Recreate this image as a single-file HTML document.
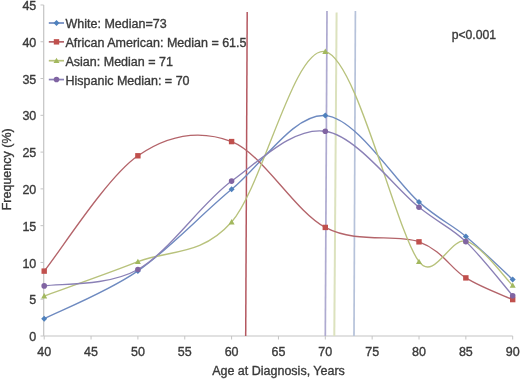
<!DOCTYPE html>
<html><head><meta charset="utf-8"><style>
html,body{margin:0;padding:0;background:#fff;width:520px;height:379px;overflow:hidden}
svg{display:block;filter:blur(0.5px)}
.l{font-size:12.5px !important}
.t{font-family:"Liberation Sans",sans-serif;font-size:12.5px;fill:#3a3a3a;stroke:#3a3a3a;stroke-width:0.35px}
</style></head><body>
<svg width="520" height="379" viewBox="0 0 520 379">
<rect width="520" height="379" fill="#fff"/>
<line x1="43.7" y1="5" x2="43.7" y2="336" stroke="#C4C4C4" stroke-width="1.2"/>
<line x1="43.7" y1="336" x2="512.7" y2="336" stroke="#C4C4C4" stroke-width="1.2"/>
<line x1="40.5" y1="336.00" x2="43.7" y2="336.00" stroke="#C4C4C4" stroke-width="1"/>
<text x="36.3" y="341.10" text-anchor="end" class="t">0</text>
<line x1="40.5" y1="299.22" x2="43.7" y2="299.22" stroke="#C4C4C4" stroke-width="1"/>
<text x="36.3" y="304.32" text-anchor="end" class="t">5</text>
<line x1="40.5" y1="262.44" x2="43.7" y2="262.44" stroke="#C4C4C4" stroke-width="1"/>
<text x="36.3" y="267.54" text-anchor="end" class="t">10</text>
<line x1="40.5" y1="225.66" x2="43.7" y2="225.66" stroke="#C4C4C4" stroke-width="1"/>
<text x="36.3" y="230.76" text-anchor="end" class="t">15</text>
<line x1="40.5" y1="188.88" x2="43.7" y2="188.88" stroke="#C4C4C4" stroke-width="1"/>
<text x="36.3" y="193.98" text-anchor="end" class="t">20</text>
<line x1="40.5" y1="152.10" x2="43.7" y2="152.10" stroke="#C4C4C4" stroke-width="1"/>
<text x="36.3" y="157.20" text-anchor="end" class="t">25</text>
<line x1="40.5" y1="115.32" x2="43.7" y2="115.32" stroke="#C4C4C4" stroke-width="1"/>
<text x="36.3" y="120.42" text-anchor="end" class="t">30</text>
<line x1="40.5" y1="78.54" x2="43.7" y2="78.54" stroke="#C4C4C4" stroke-width="1"/>
<text x="36.3" y="83.64" text-anchor="end" class="t">35</text>
<line x1="40.5" y1="41.76" x2="43.7" y2="41.76" stroke="#C4C4C4" stroke-width="1"/>
<text x="36.3" y="46.86" text-anchor="end" class="t">40</text>
<line x1="40.5" y1="4.98" x2="43.7" y2="4.98" stroke="#C4C4C4" stroke-width="1"/>
<text x="36.3" y="10.08" text-anchor="end" class="t">45</text>
<line x1="44.20" y1="336" x2="44.20" y2="339.5" stroke="#C4C4C4" stroke-width="1"/>
<text x="44.20" y="355.7" text-anchor="middle" class="t">40</text>
<line x1="91.05" y1="336" x2="91.05" y2="339.5" stroke="#C4C4C4" stroke-width="1"/>
<text x="91.05" y="355.7" text-anchor="middle" class="t">45</text>
<line x1="137.90" y1="336" x2="137.90" y2="339.5" stroke="#C4C4C4" stroke-width="1"/>
<text x="137.90" y="355.7" text-anchor="middle" class="t">50</text>
<line x1="184.75" y1="336" x2="184.75" y2="339.5" stroke="#C4C4C4" stroke-width="1"/>
<text x="184.75" y="355.7" text-anchor="middle" class="t">55</text>
<line x1="231.60" y1="336" x2="231.60" y2="339.5" stroke="#C4C4C4" stroke-width="1"/>
<text x="231.60" y="355.7" text-anchor="middle" class="t">60</text>
<line x1="278.45" y1="336" x2="278.45" y2="339.5" stroke="#C4C4C4" stroke-width="1"/>
<text x="278.45" y="355.7" text-anchor="middle" class="t">65</text>
<line x1="325.30" y1="336" x2="325.30" y2="339.5" stroke="#C4C4C4" stroke-width="1"/>
<text x="325.30" y="355.7" text-anchor="middle" class="t">70</text>
<line x1="372.15" y1="336" x2="372.15" y2="339.5" stroke="#C4C4C4" stroke-width="1"/>
<text x="372.15" y="355.7" text-anchor="middle" class="t">75</text>
<line x1="419.00" y1="336" x2="419.00" y2="339.5" stroke="#C4C4C4" stroke-width="1"/>
<text x="419.00" y="355.7" text-anchor="middle" class="t">80</text>
<line x1="465.85" y1="336" x2="465.85" y2="339.5" stroke="#C4C4C4" stroke-width="1"/>
<text x="465.85" y="355.7" text-anchor="middle" class="t">85</text>
<line x1="512.70" y1="336" x2="512.70" y2="339.5" stroke="#C4C4C4" stroke-width="1"/>
<text x="512.70" y="355.7" text-anchor="middle" class="t">90</text>
<line x1="247.20" y1="12.0" x2="245.70" y2="336" stroke="#B45860" stroke-width="1.50"/>
<line x1="327.00" y1="11.0" x2="325.30" y2="336" stroke="#AEAAD0" stroke-width="1.70"/>
<line x1="336.60" y1="12.5" x2="334.30" y2="336" stroke="#DCE2BE" stroke-width="2.00"/>
<line x1="355.40" y1="11.0" x2="354.00" y2="336" stroke="#B6C2DA" stroke-width="1.70"/>
<path d="M44.20,318.71 C59.82,310.74 106.67,292.46 137.90,270.90 C169.13,249.33 200.37,215.20 231.60,189.32 C262.83,163.44 294.07,113.48 325.30,115.61 C356.53,117.75 395.57,181.99 419.00,202.12 C441.01,221.04 450.23,223.49 465.85,236.40 C481.47,249.31 504.89,272.38 512.70,279.58" fill="none" stroke="#6E8AC0" stroke-width="1.35"/>
<path d="M44.20,271.12 C59.82,251.90 106.67,177.37 137.90,155.78 C169.13,134.19 200.37,129.64 231.60,141.58 C262.83,153.52 294.07,210.72 325.30,227.43 C356.53,244.14 395.57,233.43 419.00,241.84 C442.42,250.25 450.23,268.26 465.85,277.89 C481.47,287.51 504.89,295.97 512.70,299.59" fill="none" stroke="#B4646A" stroke-width="1.35"/>
<path d="M44.20,295.98 C59.82,290.27 106.67,274.04 137.90,261.70 C169.13,249.37 200.37,257.00 231.60,221.98 C262.83,186.97 294.07,45.00 325.30,51.62 C356.53,58.24 395.57,230.12 419.00,261.70 C434.24,282.26 450.23,237.16 465.85,241.11 C481.47,245.06 504.89,278.01 512.70,285.39" fill="none" stroke="#B8C27C" stroke-width="1.35"/>
<path d="M44.20,285.91 C59.82,283.17 106.67,286.97 137.90,269.50 C169.13,252.03 200.37,204.12 231.60,181.08 C262.83,158.05 294.07,126.92 325.30,131.28 C356.53,135.65 395.57,188.88 419.00,207.27 C441.85,225.21 450.23,226.89 465.85,241.62 C481.47,256.36 504.89,286.68 512.70,295.69" fill="none" stroke="#8A80B6" stroke-width="1.35"/>
<path d="M44.20,315.71 l3.00,3.00 l-3.00,3.00 l-3.00,-3.00 z" fill="#4F81BD"/>
<path d="M137.90,267.90 l3.00,3.00 l-3.00,3.00 l-3.00,-3.00 z" fill="#4F81BD"/>
<path d="M231.60,186.32 l3.00,3.00 l-3.00,3.00 l-3.00,-3.00 z" fill="#4F81BD"/>
<path d="M325.30,112.61 l3.00,3.00 l-3.00,3.00 l-3.00,-3.00 z" fill="#4F81BD"/>
<path d="M419.00,199.12 l3.00,3.00 l-3.00,3.00 l-3.00,-3.00 z" fill="#4F81BD"/>
<path d="M465.85,233.40 l3.00,3.00 l-3.00,3.00 l-3.00,-3.00 z" fill="#4F81BD"/>
<path d="M512.70,276.58 l3.00,3.00 l-3.00,3.00 l-3.00,-3.00 z" fill="#4F81BD"/>
<rect x="41.50" y="268.42" width="5.40" height="5.40" fill="#C0504D"/>
<rect x="135.20" y="153.08" width="5.40" height="5.40" fill="#C0504D"/>
<rect x="228.90" y="138.88" width="5.40" height="5.40" fill="#C0504D"/>
<rect x="322.60" y="224.73" width="5.40" height="5.40" fill="#C0504D"/>
<rect x="416.30" y="239.14" width="5.40" height="5.40" fill="#C0504D"/>
<rect x="463.15" y="275.19" width="5.40" height="5.40" fill="#C0504D"/>
<rect x="510.00" y="296.89" width="5.40" height="5.40" fill="#C0504D"/>
<path d="M44.20,292.98 L47.20,298.38 L41.20,298.38 z" fill="#A2B85E"/>
<path d="M137.90,258.70 L140.90,264.10 L134.90,264.10 z" fill="#A2B85E"/>
<path d="M231.60,218.98 L234.60,224.38 L228.60,224.38 z" fill="#A2B85E"/>
<path d="M325.30,48.62 L328.30,54.02 L322.30,54.02 z" fill="#A2B85E"/>
<path d="M419.00,258.70 L422.00,264.10 L416.00,264.10 z" fill="#A2B85E"/>
<path d="M465.85,238.11 L468.85,243.51 L462.85,243.51 z" fill="#A2B85E"/>
<path d="M512.70,282.39 L515.70,287.79 L509.70,287.79 z" fill="#A2B85E"/>
<circle cx="44.20" cy="285.91" r="2.8" fill="#8064A2"/>
<circle cx="137.90" cy="269.50" r="2.8" fill="#8064A2"/>
<circle cx="231.60" cy="181.08" r="2.8" fill="#8064A2"/>
<circle cx="325.30" cy="131.28" r="2.8" fill="#8064A2"/>
<circle cx="419.00" cy="207.27" r="2.8" fill="#8064A2"/>
<circle cx="465.85" cy="241.62" r="2.8" fill="#8064A2"/>
<circle cx="512.70" cy="295.69" r="2.8" fill="#8064A2"/>
<line x1="48.8" y1="23.00" x2="64" y2="23.00" stroke="#6E8AC0" stroke-width="1.7"/>
<path d="M56.50,20.00 l3.00,3.00 l-3.00,3.00 l-3.00,-3.00 z" fill="#4F81BD"/>
<text x="65.5" y="28.20" class="t l">White: Median=73</text>
<line x1="48.8" y1="41.85" x2="64" y2="41.85" stroke="#B4646A" stroke-width="1.7"/>
<rect x="53.80" y="39.15" width="5.40" height="5.40" fill="#C0504D"/>
<text x="65.5" y="47.05" class="t l">African American: Median = 61.5</text>
<line x1="48.8" y1="60.70" x2="64" y2="60.70" stroke="#B8C27C" stroke-width="1.7"/>
<path d="M56.50,57.70 L59.50,63.10 L53.50,63.10 z" fill="#A2B85E"/>
<text x="65.5" y="65.90" class="t l">Asian: Median = 71</text>
<line x1="48.8" y1="79.55" x2="64" y2="79.55" stroke="#8A80B6" stroke-width="1.7"/>
<circle cx="56.50" cy="79.55" r="2.8" fill="#8064A2"/>
<text x="65.5" y="84.75" class="t l">Hispanic Median: = 70</text>
<text x="451.7" y="38.5" class="t" style="font-size:12.2px">p&lt;0.001</text>
<text x="278.5" y="374.6" text-anchor="middle" class="t l">Age at Diagnosis, Years</text>
<text transform="translate(10.6,169.3) rotate(-90)" text-anchor="middle" class="t l">Frequency (%)</text>
</svg>
</body></html>
